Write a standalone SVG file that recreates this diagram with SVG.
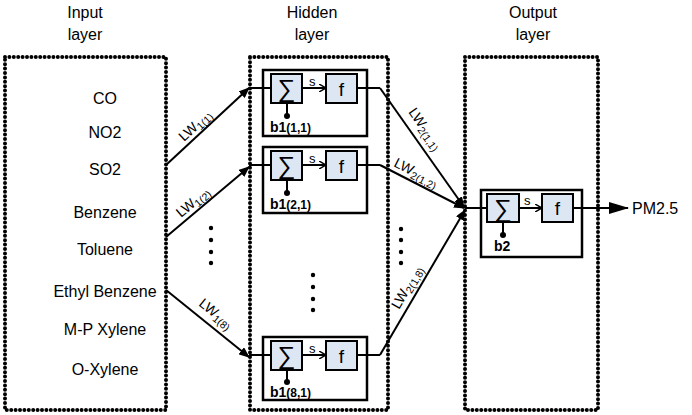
<svg xmlns="http://www.w3.org/2000/svg" width="692" height="415" viewBox="0 0 692 415">
<style>
text{font-family:"Liberation Sans",Arial,sans-serif;fill:#000}
.h{font-size:16px;text-anchor:middle}
.in{font-size:16px;text-anchor:middle}
.dot{fill:none;stroke:#000;stroke-width:4;stroke-linecap:round;stroke-dasharray:0 4.4}
.ob{fill:#fff;stroke:#000;stroke-width:2.5}
.ib{fill:#dde6f3;stroke:#000;stroke-width:2}
.ln{stroke:#000;stroke-width:2;fill:none}
.lb{font-size:14px}
.sub{font-size:10.5px}
.b{font-size:14px;font-weight:bold}
.s{font-size:13px}
.sym{font-size:25px;text-anchor:middle}
</style>
<defs>
<marker id="a" markerWidth="11" markerHeight="9" refX="10" refY="4.5" orient="auto" markerUnits="userSpaceOnUse"><path d="M0,0L11,4.5L0,9z"/></marker>
<marker id="al" markerWidth="20" markerHeight="12" refX="19" refY="6" orient="auto" markerUnits="userSpaceOnUse"><path d="M0,0L20,6L0,12z"/></marker>
<marker id="as" markerWidth="8" markerHeight="8" refX="7" refY="4" orient="auto" markerUnits="userSpaceOnUse"><path d="M0,0L7,4L0,8" fill="none" stroke="#000" stroke-width="1.5"/></marker>
</defs>
<g id="headers">
<text class="h" x="85" y="18">Input</text><text class="h" x="85" y="40">layer</text>
<text class="h" x="312" y="18">Hidden</text><text class="h" x="312" y="40">layer</text>
<text class="h" x="533" y="18">Output</text><text class="h" x="533" y="40">layer</text>
</g>
<g id="layers">
<rect class="dot" x="5" y="57" width="161" height="353"/>
<rect class="dot" x="250" y="57" width="138" height="353"/>
<rect class="dot" x="465" y="57" width="133" height="353"/>
</g>
<g id="inputs">
<text class="in" x="105" y="104">CO</text>
<text class="in" x="105" y="138">NO2</text>
<text class="in" x="105" y="175">SO2</text>
<text class="in" x="105" y="218">Benzene</text>
<text class="in" x="105" y="255">Toluene</text>
<text class="in" x="105" y="297">Ethyl Benzene</text>
<text class="in" x="105" y="335">M-P Xylene</text>
<text class="in" x="105" y="375">O-Xylene</text>
</g>
<g id="hidden1">
<rect class="ob" x="263" y="70" width="104" height="66"/>
<rect class="ib" x="271" y="74" width="31" height="29"/><text class="sym" x="286.5" y="97">∑</text>
<rect class="ib" x="326" y="74" width="31" height="29"/><text class="sym" x="341.5" y="96" style="font-size:19px">f</text>
<line class="ln" x1="302" y1="88" x2="326" y2="88" marker-end="url(#as)"/><text class="s" x="309" y="86">s</text>
<line class="ln" x1="287" y1="103" x2="287" y2="116"/><circle cx="287" cy="116" r="3"/>
<text class="b" x="270" y="132">b1<tspan font-size="12">(1,1)</tspan></text>
</g>
<g id="hidden2">
<rect class="ob" x="263" y="147" width="104" height="66"/>
<rect class="ib" x="271" y="151" width="31" height="29"/><text class="sym" x="286.5" y="174">∑</text>
<rect class="ib" x="326" y="151" width="31" height="29"/><text class="sym" x="341.5" y="173" style="font-size:19px">f</text>
<line class="ln" x1="302" y1="165" x2="326" y2="165" marker-end="url(#as)"/><text class="s" x="309" y="163">s</text>
<line class="ln" x1="287" y1="180" x2="287" y2="193"/><circle cx="287" cy="193" r="3"/>
<text class="b" x="270" y="209">b1<tspan font-size="12">(2,1)</tspan></text>
</g>
<g id="hidden8">
<rect class="ob" x="263" y="337" width="104" height="63"/>
<rect class="ib" x="271" y="341" width="31" height="29"/><text class="sym" x="286.5" y="364">∑</text>
<rect class="ib" x="326" y="341" width="31" height="29"/><text class="sym" x="341.5" y="363" style="font-size:19px">f</text>
<line class="ln" x1="302" y1="355" x2="326" y2="355" marker-end="url(#as)"/><text class="s" x="309" y="353">s</text>
<line class="ln" x1="287" y1="370" x2="287" y2="382"/><circle cx="287" cy="382" r="3"/>
<text class="b" x="270" y="397">b1<tspan font-size="12">(8,1)</tspan></text>
</g>
<g id="output">
<rect class="ob" x="481" y="190" width="101" height="67"/>
<rect class="ib" x="487" y="194" width="32" height="28"/><text class="sym" x="503" y="217">∑</text>
<rect class="ib" x="542" y="194" width="31" height="28"/><text class="sym" x="557.5" y="215" style="font-size:19px">f</text>
<line class="ln" x1="519" y1="208" x2="542" y2="208" marker-end="url(#as)"/><text class="s" x="524" y="205">s</text>
<line class="ln" x1="503" y1="222" x2="503" y2="235"/><circle cx="503" cy="235" r="3"/>
<text class="b" x="494" y="251">b2</text>
</g>
<g id="connectors">
<line class="ln" x1="166" y1="165" x2="249" y2="88" marker-end="url(#a)"/>
<line class="ln" x1="249" y1="88" x2="271" y2="88"/>
<line class="ln" x1="166" y1="237" x2="249" y2="167" marker-end="url(#a)"/>
<line class="ln" x1="249" y1="165" x2="271" y2="165"/>
<line class="ln" x1="166" y1="290" x2="249" y2="357" marker-end="url(#a)"/>
<line class="ln" x1="249" y1="355" x2="271" y2="355"/>
<line class="ln" x1="357" y1="88" x2="380" y2="88"/>
<line class="ln" x1="380" y1="88" x2="464" y2="207" marker-end="url(#a)"/>
<line class="ln" x1="357" y1="165" x2="380" y2="165"/>
<line class="ln" x1="380" y1="165" x2="464" y2="208" marker-end="url(#a)"/>
<line class="ln" x1="357" y1="355" x2="380" y2="355"/>
<line class="ln" x1="380" y1="355" x2="465" y2="210" marker-end="url(#a)"/>
<line class="ln" x1="465" y1="208" x2="487" y2="208"/>
<line class="ln" x1="573" y1="208" x2="628" y2="208" marker-end="url(#al)"/>
</g>
<g id="labels">
<text class="lb" transform="translate(184,142) rotate(-43)">LW<tspan class="sub" dy="3">1(1)</tspan></text>
<text class="lb" transform="translate(181,218) rotate(-40)">LW<tspan class="sub" dy="3">1(2)</tspan></text>
<text class="lb" transform="translate(198,305) rotate(39)">LW<tspan class="sub" dy="3">1(8)</tspan></text>
<text class="lb" transform="translate(408,112) rotate(55)">LW<tspan class="sub" dy="3">2(1,1)</tspan></text>
<text class="lb" transform="translate(393,166) rotate(27)">LW<tspan class="sub" dy="3">2(1,2)</tspan></text>
<text class="lb" transform="translate(399,310) rotate(-60)">LW<tspan class="sub" dy="3">2(1,8)</tspan></text>
<text x="632" y="214" style="font-size:16px">PM2.5</text>
</g>
<g id="ellipses">
<circle cx="211" cy="228" r="2.2"/><circle cx="211" cy="240" r="2.2"/><circle cx="211" cy="252" r="2.2"/><circle cx="211" cy="263" r="2.2"/>
<circle cx="313" cy="275" r="2.2"/><circle cx="313" cy="287" r="2.2"/><circle cx="313" cy="299" r="2.2"/><circle cx="313" cy="310" r="2.2"/>
<circle cx="401" cy="229" r="2.2"/><circle cx="401" cy="240" r="2.2"/><circle cx="401" cy="252" r="2.2"/><circle cx="401" cy="263" r="2.2"/>
</g>
</svg>
